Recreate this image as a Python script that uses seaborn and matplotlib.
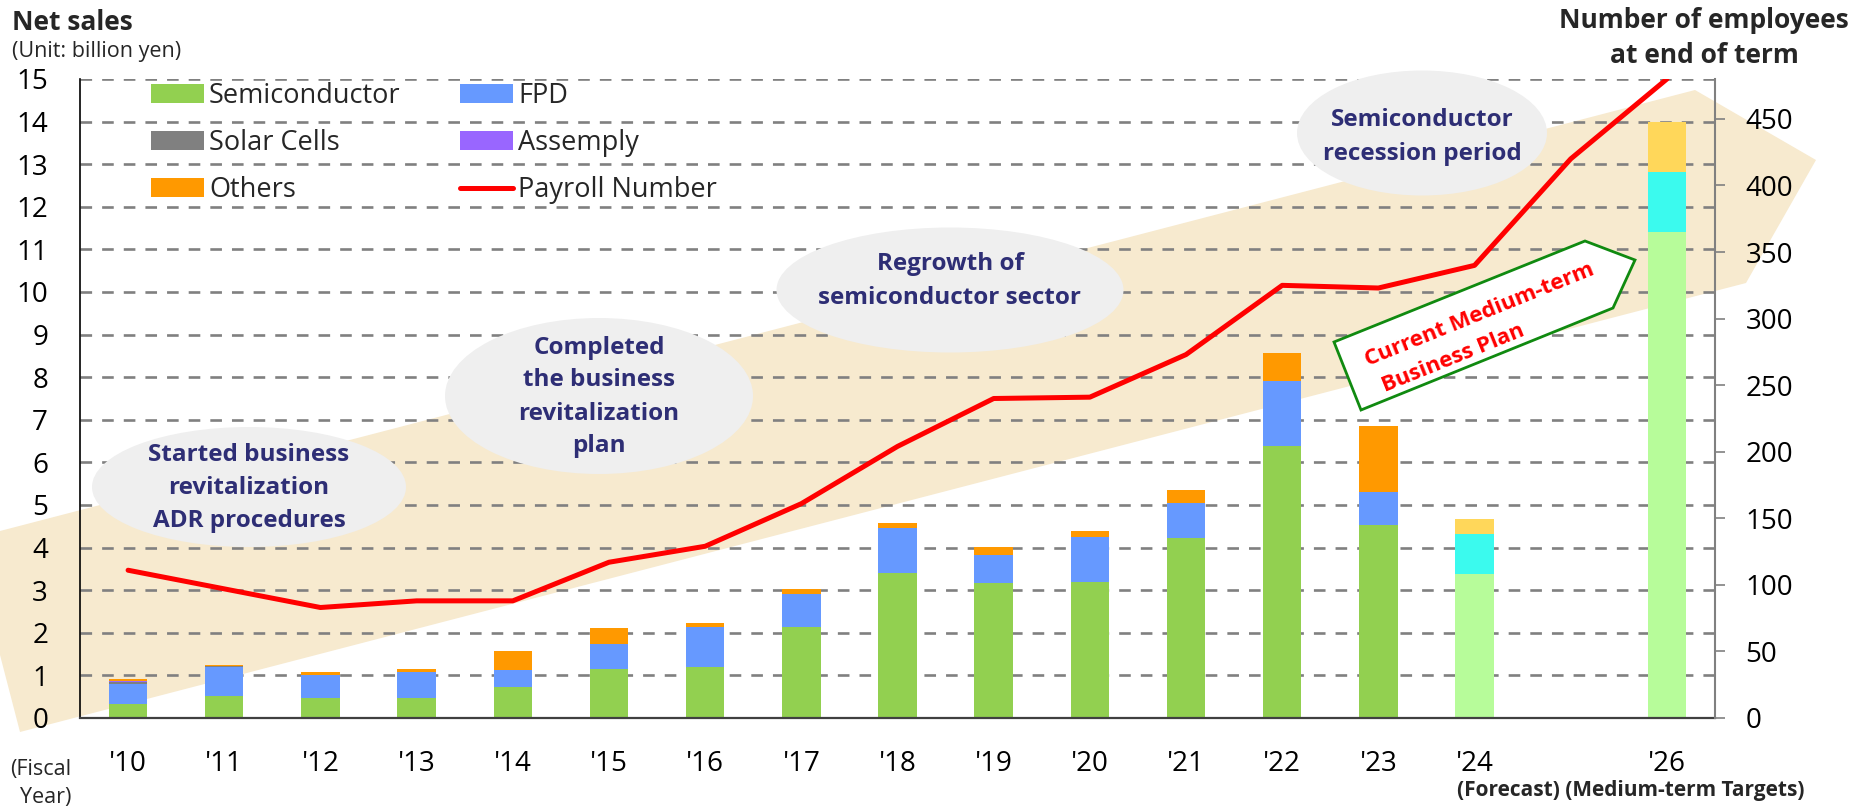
import numpy as np
import pandas as pd
import matplotlib
matplotlib.use("Agg")
import matplotlib.pyplot as plt
import seaborn as sns
from matplotlib.patches import Polygon, Ellipse, Patch
from matplotlib.lines import Line2D

# ---------------- data ----------------
all_years = ["'10", "'11", "'12", "'13", "'14", "'15", "'16", "'17", "'18",
             "'19", "'20", "'21", "'22", "'23", "'24", "'25", "'26"]
tick_labels = ["'10", "'11", "'12", "'13", "'14", "'15", "'16", "'17", "'18",
               "'19", "'20", "'21", "'22", "'23", "'24", "", "'26"]
bar_years = ["'10", "'11", "'12", "'13", "'14", "'15", "'16", "'17", "'18",
             "'19", "'20", "'21", "'22", "'23", "'24", "'26"]
semiconductor = [0.33, 0.52, 0.48, 0.47, 0.73, 1.16, 1.20, 2.13, 3.40,
                 3.17, 3.20, 4.22, 6.38, 4.52, 3.39, 11.40]
fpd = [0.47, 0.67, 0.54, 0.62, 0.39, 0.57, 0.94, 0.78, 1.06,
       0.66, 1.06, 0.82, 1.53, 0.78, 0.93, 1.42]
solar_cells = [0.04, 0.02, 0, 0, 0, 0, 0, 0, 0, 0, 0, 0, 0, 0, 0, 0]
assembly = [0.03, 0, 0, 0, 0, 0, 0, 0, 0, 0, 0, 0, 0, 0, 0, 0]
others = [0.05, 0.04, 0.07, 0.07, 0.46, 0.39, 0.09, 0.11, 0.12,
          0.18, 0.12, 0.31, 0.66, 1.55, 0.35, 1.18]
payroll = [111, 97, 83, 88, 88, 117, 129, 161, 204, 240, 241, 273,
           325, 323, 340, 420, 480]
forecast_years = ["'24", "'26"]

series_names = ["Semiconductor", "FPD", "Solar Cells", "Assemply", "Others"]
actual_colors = {"Semiconductor": "#92D050", "FPD": "#6699FF",
                 "Solar Cells": "#808080", "Assemply": "#9966FF",
                 "Others": "#FF9900"}
forecast_colors = {"Semiconductor": "#B7FC9A", "FPD": "#3BFAEE",
                   "Solar Cells": "#B0B0B0", "Assemply": "#C0A0FF",
                   "Others": "#FFD75A"}

# ---------------- figure ----------------
W, H = 1858, 809
sns.set_style("white")
plt.rcParams["font.family"] = ["Open Sans", "DejaVu Sans"]

fig = plt.figure(figsize=(W / 100, H / 100), dpi=100)
fig.patch.set_facecolor("white")


def fx(px):
    return px / W


def fy(py):
    return 1 - py / H


ax = fig.add_axes([fx(80), fy(718), (1715 - 80) / W, (718 - 79) / H])
ax.set_zorder(1)
ax.patch.set_facecolor("none")

# decorative band behind the chart
band = [(0, 531), (1695, 90), (1816, 160), (1746, 283), (20, 732), (0, 655)]
fig.add_artist(Polygon([(fx(x), fy(y)) for x, y in band], closed=True,
                       transform=fig.transFigure, facecolor="#F7EACF",
                       edgecolor="none", zorder=0.5))

# ---------------- stacked bars (drawn as cumulative layers) ----------------
layers = [semiconductor, fpd, solar_cells, assembly, others]
cum = np.cumsum(np.array(layers), axis=0)
for idx in range(len(layers) - 1, -1, -1):
    name = series_names[idx]
    df = pd.DataFrame({"year": bar_years, "value": cum[idx]})
    pal = {y: (forecast_colors[name] if y in forecast_years else actual_colors[name])
           for y in bar_years}
    sns.barplot(data=df, x="year", y="value", hue="year", order=all_years,
                hue_order=bar_years, palette=pal, width=0.4, dodge=False,
                saturation=1, linewidth=0, errorbar=None, legend=False, ax=ax)

ax.set_xlim(-0.5, 16.5)
ax.set_ylim(0, 15)
ax.set_yticks(range(0, 16))
ax.set_xticks(range(len(all_years)))
ax.set_xticklabels(tick_labels)
ax.set_xticks(np.arange(0.5, 16, 1), minor=True)
ax.set_xlabel("")
ax.set_ylabel("")
ax.set_axisbelow(True)
ax.yaxis.grid(True, color="#808080", lw=1.9, linestyle=(0, (4.4, 3.8)))
ax.xaxis.grid(False)
ax.tick_params(axis="y", length=0, pad=23, labelsize=20, labelcolor="black")
ax.tick_params(axis="x", which="major", length=0, pad=23, labelsize=20,
               labelcolor="black")
ax.tick_params(axis="x", which="minor", direction="in", length=7, width=1.2,
               color="black")
ax.spines["top"].set_visible(False)
ax.spines["right"].set_visible(False)
ax.spines["left"].set_color("black")
ax.spines["left"].set_linewidth(1.2)
ax.spines["bottom"].set_color("#404040")
ax.spines["bottom"].set_linewidth(1.6)

# ---------------- payroll line (right axis) ----------------
ax2 = ax.twinx()
ax2.set_zorder(3)
sns.lineplot(x=np.arange(len(all_years)), y=payroll, ax=ax2, color="#FF0000",
             lw=3.6, sort=False)
ax2.set_ylim(0, 480)
ax2.set_xlim(-0.5, 16.5)
ax2.set_yticks(range(0, 451, 50))
ax2.set_ylabel("")
ax2.tick_params(axis="y", direction="out", length=7, width=1.2,
                color="#808080", pad=15, labelsize=20, labelcolor="black")
for s in ["top", "left", "bottom"]:
    ax2.spines[s].set_visible(False)
ax2.spines["right"].set_color("#808080")
ax2.spines["right"].set_linewidth(1.5)

# ---------------- legend ----------------
handles = [Patch(facecolor=actual_colors["Semiconductor"], edgecolor="none"),
           Patch(facecolor=actual_colors["Solar Cells"], edgecolor="none"),
           Patch(facecolor=actual_colors["Others"], edgecolor="none"),
           Patch(facecolor=actual_colors["FPD"], edgecolor="none"),
           Patch(facecolor=actual_colors["Assemply"], edgecolor="none"),
           Line2D([0], [0], color="#FF0000", lw=3.6)]
labels = ["Semiconductor", "Solar Cells", "Others", "FPD", "Assemply",
          "Payroll Number"]
ax2.legend(handles, labels, ncol=2, loc="upper left",
           bbox_to_anchor=(fx(151), fy(82)), bbox_transform=fig.transFigure,
           frameon=False, fontsize=19.5, handlelength=1.95, handleheight=0.68,
           handletextpad=0.19, columnspacing=2.2, labelspacing=0.7,
           borderpad=0, borderaxespad=0)

# ---------------- annotation ellipses ----------------
navy = "#2E2E75"
ellipses = [
    (249, 487, 314, 120, 488, "Started business\nrevitalization\nADR procedures"),
    (599, 396, 308, 156, 397, "Completed\nthe business\nrevitalization\nplan"),
    (950, 290, 347, 125, 281, "Regrowth of\nsemiconductor sector"),
    (1422, 133, 250, 125, 137, "Semiconductor\nrecession period"),
]
for cx, cy, ew, eh, ty, txt in ellipses:
    fig.add_artist(Ellipse((fx(cx), fy(cy)), ew / W, eh / H,
                           transform=fig.transFigure, facecolor="#EFEFEF",
                           edgecolor="none", zorder=2))
    fig.text(fx(cx), fy(ty), txt, ha="center", va="center", fontsize=17.5,
             fontweight="bold", color=navy, linespacing=1.5, zorder=2.5)

# ---------------- medium-term plan arrow box ----------------
box = [(1334, 342), (1585, 241), (1635, 260), (1613, 308), (1361, 410)]
fig.add_artist(Polygon([(fx(x), fy(y)) for x, y in box], closed=True,
                       transform=fig.transFigure, facecolor="white",
                       edgecolor="#108A10", lw=2, zorder=2))
fig.text(fx(1480), fy(315), "Current Medium-term", ha="center", va="center",
         rotation=22, rotation_mode="anchor", fontsize=16, fontweight="bold",
         color="#FF0000", zorder=2.5)
fig.text(fx(1453), fy(358), "Business Plan", ha="center", va="center",
         rotation=22, rotation_mode="anchor", fontsize=16, fontweight="bold",
         color="#FF0000", zorder=2.5)

# ---------------- titles and notes ----------------
fig.text(fx(12), fy(30), "Net sales", ha="left", va="baseline", fontsize=19,
         fontweight="bold")
fig.text(fx(12), fy(57), "(Unit: billion yen)", ha="left", va="baseline",
         fontsize=15.5)
fig.text(fx(1704), fy(28), "Number of employees", ha="center", va="baseline",
         fontsize=19, fontweight="bold")
fig.text(fx(1704), fy(63), "at end of term", ha="center", va="baseline",
         fontsize=19, fontweight="bold")
fig.text(fx(71), fy(775), "(Fiscal", ha="right", va="baseline", fontsize=15.5)
fig.text(fx(71), fy(803), "Year)", ha="right", va="baseline", fontsize=15.5)
fig.text(fx(1631), fy(796), "(Forecast) (Medium-term Targets)", ha="center",
         va="baseline", fontsize=15, fontweight="bold")

fig.savefig("out.png", dpi=100, facecolor="white")
